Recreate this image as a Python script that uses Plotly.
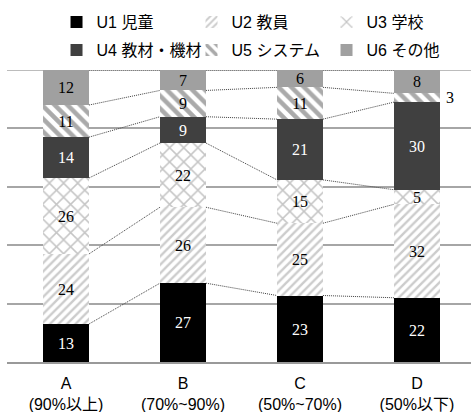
import plotly.graph_objects as go

# Categories (achievement bands) and response counts per factor
categories = ["A", "B", "C", "D"]
category_notes = ["(90%以上)", "(70%~90%)", "(50%~70%)", "(50%以下)"]

series_names = ["U1 児童", "U2 教員", "U3 学校", "U4 教材・機材", "U5 システム", "U6 その他"]
u1 = [13, 27, 23, 22]
u2 = [24, 26, 25, 32]
u3 = [26, 22, 15, 5]
u4 = [14, 9, 21, 30]
u5 = [11, 9, 11, 3]
u6 = [12, 7, 6, 8]
series_values = [u1, u2, u3, u4, u5, u6]

SANS = "Liberation Sans, Arial, Noto Sans CJK JP"
SERIF = "Liberation Serif, Cambria, serif"

bar_width = 0.393
xpos = list(range(len(categories)))

styles = [
    dict(color="#000000", pattern=None, text="white"),
    dict(color="#ffffff", pattern=dict(shape="/", fgcolor="#9a9a9a", bgcolor="#ffffff",
                                       size=6, solidity=0.4), text="black"),
    dict(color="#ffffff", pattern=dict(shape="x", fgcolor="#8c8c8c", bgcolor="#ffffff",
                                       size=10, solidity=0.28), text="black"),
    dict(color="#404040", pattern=None, text="white"),
    dict(color="#ffffff", pattern=dict(shape="\\", fgcolor="#555555", bgcolor="#ffffff",
                                       size=9, solidity=0.5), text="black"),
    dict(color="#a0a0a0", pattern=None, text="black"),
]

fig = go.Figure()

# cumulative shares (percent) for each category, used by the series lines
totals = [sum(s[i] for s in series_values) for i in range(len(categories))]
cum = [0.0] * len(categories)
tops = []
mids = []
for vals in series_values:
    lo = cum[:]
    cum = [cum[i] + vals[i] * 100.0 / totals[i] for i in range(len(categories))]
    tops.append(cum[:])
    mids.append([(lo[i] + cum[i]) / 2 for i in range(len(categories))])

# small segments whose label sits beside the bar
outside = {(4, 3)}

for k, (name, vals, st) in enumerate(zip(series_names, series_values, styles)):
    marker = dict(color=st["color"], line=dict(width=0))
    if st["pattern"]:
        marker["pattern"] = st["pattern"]
    positions = ["none" if (k, i) in outside else "inside" for i in range(len(vals))]
    fig.add_trace(go.Bar(
        x=xpos, y=vals, name=name, width=bar_width,
        marker=marker,
        text=[str(v) for v in vals],
        textposition=positions,
        insidetextanchor="middle",
        textangle=0,
        constraintext="none",
        textfont=dict(family=SERIF, size=16, color=st["text"]),
        legend="legend" if k < 3 else "legend2",
        hoverinfo="skip",
    ))

# dotted series lines joining the top of each segment between neighbouring bars
for k in range(len(series_values)):
    for i in range(len(categories) - 1):
        fig.add_trace(go.Scatter(
            x=[xpos[i] + bar_width / 2, xpos[i + 1] - bar_width / 2],
            y=[tops[k][i], tops[k][i + 1]],
            mode="lines",
            line=dict(color="#404040", width=1, dash="1px,1px"),
            showlegend=False, hoverinfo="skip",
        ))

for (k, i) in outside:
    fig.add_annotation(
        x=xpos[i] + bar_width / 2, y=mids[k][i], text=str(series_values[k][i]),
        showarrow=False, xanchor="left", yanchor="middle", xshift=4,
        font=dict(family=SERIF, size=16, color="black"),
    )

# gridline at the 100% boundary
fig.add_shape(type="line", xref="paper", yref="y", x0=0, x1=1, y0=100, y1=100,
              line=dict(color="#a6a6a6", width=1.5), layer="below")

legend_common = dict(
    orientation="h", xref="container", yref="container",
    xanchor="left", yanchor="middle", traceorder="normal",
    font=dict(family=SANS, size=16, color="black"),
    entrywidth=90, itemwidth=30, bgcolor="rgba(0,0,0,0)",
)

fig.update_layout(
    width=471, height=412,
    margin=dict(l=7, r=0, t=70, b=50),
    paper_bgcolor="white", plot_bgcolor="white",
    barmode="stack", barnorm="percent",
    bargap=0,
    legend=dict(x=0.12, y=1 - 22 / 412, **legend_common),
    legend2=dict(x=0.12, y=1 - 50 / 412, **legend_common),
    xaxis=dict(
        range=[-0.504, 3.462],
        tickmode="array", tickvals=xpos,
        ticktext=[f"{c}<br>{n}" for c, n in zip(categories, category_notes)],
        tickfont=dict(family=SANS, size=16, color="black"),
        ticklabelstandoff=6,
        showgrid=False, zeroline=False,
        showline=True, linecolor="#999999", linewidth=2,
        ticks="",
    ),
    yaxis=dict(
        range=[0, 100], dtick=20, showticklabels=False,
        showgrid=True, gridcolor="#a6a6a6", gridwidth=1.5,
        zeroline=False, ticks="",
    ),
    showlegend=True,
)

fig.write_html("out.html")
